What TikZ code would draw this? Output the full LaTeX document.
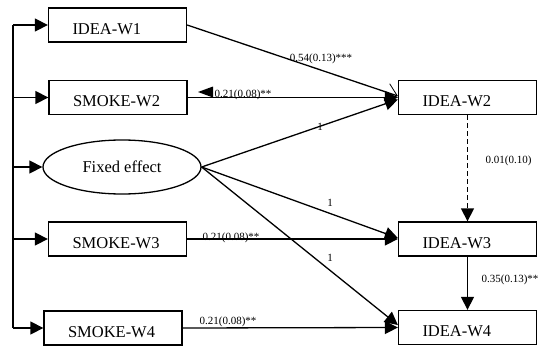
\documentclass[tikz,border=0pt]{standalone}
\usepackage{fontspec}
\setmainfont{Liberation Serif}
\usetikzlibrary{arrows.meta,shapes.geometric}

\begin{document}
\begin{tikzpicture}[x=1pt,y=-1pt,
  line width=1.3pt,
  varbox/.style={draw, rectangle, minimum height=34pt, inner xsep=24pt,
    text width=90pt, align=left, text height=18.6pt, text depth=0pt,
    font=\fontsize{16.5}{18}\selectfont},
  latent/.style={draw, ellipse, minimum width=158pt, minimum height=54pt,
    inner sep=0pt, font=\fontsize{16.5}{18}\selectfont},
  tip/.style={-{Triangle[length=13pt,width=13pt]}},
  barb/.style={-{Straight Barb[length=11pt,width=18pt,line width=0.8pt]}},
  lab/.style={font=\fontsize{11}{13}\selectfont, inner sep=0pt},
]
\useasboundingbox (0,0) rectangle (539,348);

% predictors on the left
\node[varbox] (w1) at (117.5,25)  {IDEA-W1};
\node[varbox] (s2) at (118,97.5)  {SMOKE-W2};
\node[latent] (fe) at (122,167)   {Fixed effect};
\node[varbox] (s3) at (117.5,239) {SMOKE-W3};
\node[varbox] (s4) at (113,328)   {SMOKE-W4};

% outcomes on the right
\node[varbox] (i2) at (467.5,97.5) {IDEA-W2};
\node[varbox] (i3) at (467.5,239)  {IDEA-W3};
\node[varbox] (i4) at (467.5,327.5){IDEA-W4};

% correlation bus on the left
\coordinate (b1) at (13,25);
\coordinate (b2) at (13,97.5);
\coordinate (b3) at (13,167);
\coordinate (b4) at (13,239);
\coordinate (b5) at (13,328);
\draw (b1) -- (b5);
\draw[tip] (b1) -- (w1.west);
\draw[tip] (b2) -- (s2.west);
\draw[tip] (b3) -- (fe.west);
\draw[tip] (b4) -- (s3.west);
\draw[tip] (b5) -- (s4.west);

% paths into IDEA-W2
\draw[barb] (w1.east) -- ([yshift=1.5pt]i2.west);
\draw[tip] (s2.east) -- (i2.west);
\draw[tip] (fe.east) -- ([yshift=-2pt]i2.west);
\fill (198,92) -- (213,86.5) -- (213,97.5) -- cycle;

% paths into IDEA-W3 and IDEA-W4
\draw[tip] (fe.east) -- ([yshift=1pt]i3.west);
\draw[tip] (s3.east) -- (i3.west);
\draw[tip] (fe.east) -- ([yshift=2.5pt]i4.west);
\draw[tip] (s4.east) -- (i4.west);
\draw[tip, dash pattern=on 5pt off 3pt] (i2.south) -- (i3.north);
\draw[tip] (i3.south) -- (i4.north);

% coefficients
\node[lab] (c1) at (321,59) {0.54(0.13)***};
\node[lab, anchor=base west] (c2) at (214,97.5) {0.21(0.08)**};
\node[lab] (c3) at (320,127) {1};
\node[lab] (c4) at (330,203) {1};
\node[lab] (c5) at (330,258) {1};
\node[lab, anchor=base west] (c6) at (202,240) {0.21(0.08)**};
\node[lab, anchor=base west] (c7) at (199,324.5) {0.21(0.08)**};
\node[lab, anchor=west] (c8) at (485,161) {0.01(0.10)};
\node[lab, anchor=west] (c9) at (481,280) {0.35(0.13)**};
\end{tikzpicture}
\end{document}
